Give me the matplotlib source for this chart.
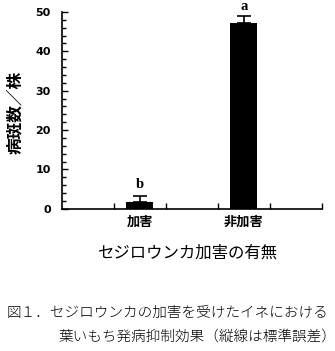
import matplotlib
matplotlib.use("Agg")
import matplotlib.pyplot as plt
from matplotlib.ticker import MultipleLocator

# data
categories = ["加害", "非加害"]
lesions = [1.7, 47.1]          # 病斑数／株
sem = [1.5, 1.9]               # upper error only
letters = ["b", "a"]
letter_y = [6.1, 51.5]
positions = [1.5, 3.5]

jp = ["Noto Sans CJK JP", "DejaVu Sans"]

fig = plt.figure(figsize=(3.35, 3.51), dpi=100)
ax = fig.add_axes([0.185, 0.405, 0.776, 0.561])

ax.bar(positions, lesions, width=0.52, color="black", zorder=2)
ax.errorbar(positions, lesions, yerr=[[0, 0], sem], fmt="none",
            ecolor="black", elinewidth=1.2, capsize=4.8, capthick=1.2, zorder=3)
for x, t, y in zip(positions, letters, letter_y):
    ax.text(x, y, t, ha="center", va="center", fontsize=10.5,
            fontweight="bold", family="Liberation Serif", clip_on=False)

ax.set_xlim(0, 5)
ax.set_ylim(0, 50)
ax.set_xticks([1, 2, 3, 4, 5])
ax.set_xticklabels([])
ax.set_xticks(positions, minor=True)
ax.set_xticklabels(categories, minor=True, family=jp, fontweight="bold", fontsize=9.5)
ax.tick_params(axis="x", which="major", direction="in", length=4, width=1)
ax.tick_params(axis="x", which="minor", length=0, pad=4)

ax.yaxis.set_major_locator(MultipleLocator(10))
ax.yaxis.set_minor_locator(MultipleLocator(2))
ax.tick_params(axis="y", which="major", direction="in", length=4, width=1, pad=8)
ax.tick_params(axis="y", which="minor", direction="in", length=3, width=1)
for lab in ax.get_yticklabels():
    lab.set_fontweight("bold")
    lab.set_fontsize(8)

ax.spines["top"].set_visible(False)
ax.spines["right"].set_visible(False)
ax.spines["left"].set_linewidth(1.2)
ax.spines["bottom"].set_linewidth(1.2)

fig.text(0.045, 0.68, "病斑数／株", rotation=90, ha="center", va="center",
         family=jp, fontweight="bold", fontsize=12)
fig.text(0.558, 0.279, "セジロウンカ加害の有無", ha="center", va="center",
         family=jp, fontsize=11.8)
fig.text(0.021, 0.108, "図１．セジロウンカの加害を受けたイネにおける", ha="left",
         va="center", family=jp, fontsize=10.5, fontweight="light")
fig.text(0.173, 0.040, "葉いもち発病抑制効果（縦線は標準誤差）", ha="left",
         va="center", family=jp, fontsize=10.5, fontweight="light")

fig.savefig("out.png", dpi=100)
